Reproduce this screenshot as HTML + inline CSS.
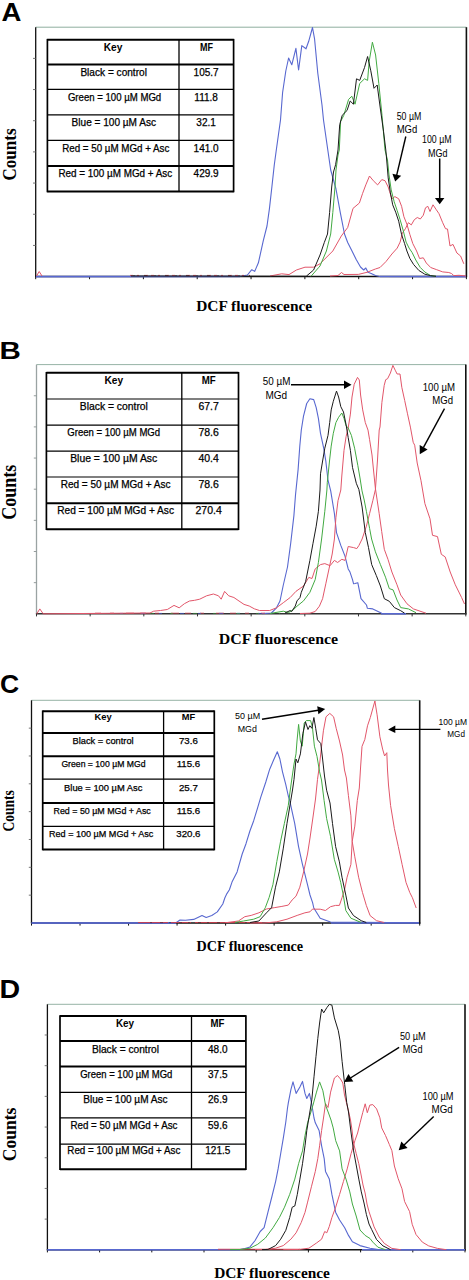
<!DOCTYPE html>
<html><head><meta charset="utf-8"><style>
html,body{margin:0;padding:0;background:#fff;}
svg{display:block;}
</style></head><body>
<svg width="469" height="1280" viewBox="0 0 469 1280">
<rect width="469" height="1280" fill="#fff"/>
<text transform="translate(1.6,20.6) scale(1.04,1)" x="0" y="0" font-family='"Liberation Sans", sans-serif' font-size="26.5" font-weight="bold">A</text>
<line x1="35.7" y1="27.2" x2="466.4" y2="27.2" stroke="#8fae9f" stroke-width="1.0"/>
<line x1="35.7" y1="27.2" x2="35.7" y2="276.6" stroke="#111" stroke-width="1.3"/>
<line x1="466.4" y1="27.2" x2="466.4" y2="277.20000000000005" stroke="#111" stroke-width="1.6"/>
<line x1="35.1" y1="276.6" x2="467.0" y2="276.6" stroke="#111" stroke-width="1.5"/>
<line x1="33.0" y1="245.425" x2="35.7" y2="245.425" stroke="#666" stroke-width="0.9"/>
<line x1="33.0" y1="214.25" x2="35.7" y2="214.25" stroke="#666" stroke-width="0.9"/>
<line x1="33.0" y1="183.07500000000002" x2="35.7" y2="183.07500000000002" stroke="#666" stroke-width="0.9"/>
<line x1="33.0" y1="151.9" x2="35.7" y2="151.9" stroke="#666" stroke-width="0.9"/>
<line x1="33.0" y1="120.725" x2="35.7" y2="120.725" stroke="#666" stroke-width="0.9"/>
<line x1="33.0" y1="89.55000000000001" x2="35.7" y2="89.55000000000001" stroke="#666" stroke-width="0.9"/>
<line x1="33.0" y1="58.375" x2="35.7" y2="58.375" stroke="#666" stroke-width="0.9"/>
<line x1="35.7" y1="276.6" x2="35.7" y2="279.20000000000005" stroke="#111" stroke-width="1.0"/>
<line x1="89.5375" y1="276.6" x2="89.5375" y2="279.20000000000005" stroke="#111" stroke-width="1.0"/>
<line x1="143.375" y1="276.6" x2="143.375" y2="279.20000000000005" stroke="#111" stroke-width="1.0"/>
<line x1="197.21249999999998" y1="276.6" x2="197.21249999999998" y2="279.20000000000005" stroke="#111" stroke-width="1.0"/>
<line x1="251.05" y1="276.6" x2="251.05" y2="279.20000000000005" stroke="#111" stroke-width="1.0"/>
<line x1="304.8875" y1="276.6" x2="304.8875" y2="279.20000000000005" stroke="#111" stroke-width="1.0"/>
<line x1="358.72499999999997" y1="276.6" x2="358.72499999999997" y2="279.20000000000005" stroke="#111" stroke-width="1.0"/>
<line x1="412.5625" y1="276.6" x2="412.5625" y2="279.20000000000005" stroke="#111" stroke-width="1.0"/>
<line x1="466.4" y1="276.6" x2="466.4" y2="279.20000000000005" stroke="#111" stroke-width="1.0"/>
<line x1="47.4" y1="38.900000000000006" x2="47.4" y2="192.3" stroke="#000" stroke-width="1.7"/>
<line x1="233.6" y1="38.900000000000006" x2="233.6" y2="192.3" stroke="#000" stroke-width="1.7"/>
<line x1="179" y1="39.7" x2="179" y2="191.5" stroke="#000" stroke-width="1.3"/>
<line x1="47.4" y1="39.7" x2="233.6" y2="39.7" stroke="#000" stroke-width="2.0"/>
<line x1="47.4" y1="64.6" x2="233.6" y2="64.6" stroke="#000" stroke-width="2.0"/>
<line x1="47.4" y1="89.3" x2="233.6" y2="89.3" stroke="#000" stroke-width="1.2"/>
<line x1="47.4" y1="114.8" x2="233.6" y2="114.8" stroke="#000" stroke-width="1.2"/>
<line x1="47.4" y1="140.3" x2="233.6" y2="140.3" stroke="#000" stroke-width="1.2"/>
<line x1="47.4" y1="166.1" x2="233.6" y2="166.1" stroke="#000" stroke-width="2.0"/>
<line x1="47.4" y1="191.5" x2="233.6" y2="191.5" stroke="#000" stroke-width="2.0"/>
<text x="103.7" y="51.0" font-family='"Liberation Sans", sans-serif' font-size="10" font-weight="bold" text-anchor="start" fill="#000" textLength="18.7" lengthAdjust="spacingAndGlyphs" >Key</text>
<text x="206.6" y="51.0" font-family='"Liberation Sans", sans-serif' font-size="10" font-weight="bold" text-anchor="middle" fill="#000" textLength="13.0" lengthAdjust="spacingAndGlyphs" >MF</text>
<text x="80.4" y="75.8" font-family='"Liberation Sans", sans-serif' font-size="10" font-weight="normal" text-anchor="start" fill="#000" textLength="66.5" lengthAdjust="spacingAndGlyphs" stroke="#000" stroke-width="0.25">Black = control</text>
<text x="206.1" y="75.8" font-family='"Liberation Sans", sans-serif' font-size="10" font-weight="normal" text-anchor="middle" fill="#000" stroke="#000" stroke-width="0.25">105.7</text>
<text x="67.9" y="100.5" font-family='"Liberation Sans", sans-serif' font-size="10" font-weight="normal" text-anchor="start" fill="#000" textLength="93.3" lengthAdjust="spacingAndGlyphs" stroke="#000" stroke-width="0.25">Green = 100 µM MGd</text>
<text x="206.1" y="100.5" font-family='"Liberation Sans", sans-serif' font-size="10" font-weight="normal" text-anchor="middle" fill="#000" stroke="#000" stroke-width="0.25">111.8</text>
<text x="71.6" y="126.0" font-family='"Liberation Sans", sans-serif' font-size="10" font-weight="normal" text-anchor="start" fill="#000" textLength="84.4" lengthAdjust="spacingAndGlyphs" stroke="#000" stroke-width="0.25">Blue = 100 µM Asc</text>
<text x="206.1" y="126.0" font-family='"Liberation Sans", sans-serif' font-size="10" font-weight="normal" text-anchor="middle" fill="#000" stroke="#000" stroke-width="0.25">32.1</text>
<text x="62.2" y="151.7" font-family='"Liberation Sans", sans-serif' font-size="10" font-weight="normal" text-anchor="start" fill="#000" textLength="107.2" lengthAdjust="spacingAndGlyphs" stroke="#000" stroke-width="0.25">Red = 50 µM MGd + Asc</text>
<text x="206.1" y="151.7" font-family='"Liberation Sans", sans-serif' font-size="10" font-weight="normal" text-anchor="middle" fill="#000" stroke="#000" stroke-width="0.25">141.0</text>
<text x="58.5" y="177.0" font-family='"Liberation Sans", sans-serif' font-size="10" font-weight="normal" text-anchor="start" fill="#000" textLength="113.7" lengthAdjust="spacingAndGlyphs" stroke="#000" stroke-width="0.25">Red = 100 µM MGd + Asc</text>
<text x="206.1" y="177.0" font-family='"Liberation Sans", sans-serif' font-size="10" font-weight="normal" text-anchor="middle" fill="#000" stroke="#000" stroke-width="0.25">429.9</text>
<text transform="translate(15.6,154.5) rotate(-90)" x="0" y="0" font-family='"Liberation Serif", serif' font-size="19" font-weight="bold" text-anchor="middle" textLength="52" lengthAdjust="spacingAndGlyphs">Counts</text>
<text x="254.14999999999998" y="310.6" font-family='"Liberation Serif", serif' font-size="15.2" font-weight="bold" text-anchor="middle" fill="#000" textLength="116.0" lengthAdjust="spacingAndGlyphs" >DCF fluorescence</text>
<polyline points="36.0,276.6 240.0,276.5 247.4,275.0 251.8,269.7 254.7,271.4 258.4,262.8 263.3,240.7 267.0,226.0 269.4,208.9 271.9,186.8 274.3,164.7 276.3,150.0 280.5,120.0 282.6,92.5 285.8,71.0 288.6,58.0 291.8,64.8 295.9,48.4 298.6,70.0 301.8,45.6 306.0,48.8 308.7,41.3 312.5,27.5 314.6,39.2 317.8,73.3 322.0,105.0 323.5,120.0 327.8,150.0 330.7,170.0 336.0,189.0 340.3,212.6 344.5,234.0 347.7,242.5 352.0,251.0 356.2,259.5 360.5,267.0 363.7,270.0 365.8,268.0 368.0,272.3 371.2,273.4 375.4,275.5 379.7,276.5 466.0,276.6" fill="none" stroke="#5868d0" stroke-width="1.1" stroke-opacity="1.0" stroke-linejoin="round"/>
<line x1="36" y1="276.6" x2="240" y2="276.6" stroke="#5868d0" stroke-width="1.5"/>
<line x1="380" y1="276.6" x2="466" y2="276.6" stroke="#5868d0" stroke-width="1.5"/>
<line x1="130" y1="275.4" x2="250" y2="275.4" stroke="#c03040" stroke-width="1" stroke-dasharray="3 4 2 5 4 3" stroke-opacity="0.8"/>
<line x1="133" y1="275.6" x2="250" y2="275.6" stroke="#222" stroke-width="0.8" stroke-dasharray="2 9 3 7" stroke-opacity="0.6"/>
<polyline points="270.0,276.0 281.7,273.8 289.0,274.6 296.4,270.0 305.0,267.2 313.6,267.2 320.0,263.8 332.8,251.0 341.3,236.0 347.7,227.5 353.0,208.4 359.4,203.0 362.6,193.4 365.8,184.9 369.5,176.0 373.3,180.7 377.6,184.9 381.8,179.6 385.0,180.7 388.2,187.0 389.5,191.3 391.9,198.8 394.9,196.6 398.7,198.8 401.6,206.3 403.9,216.7 406.9,224.2 409.9,234.6 412.8,243.6 416.6,251.0 419.6,258.5 423.3,257.8 426.3,263.0 430.7,267.5 436.7,269.7 442.7,271.9 448.8,272.5 451.5,273.5 453.8,275.6 459.0,275.3 466.0,276.0" fill="none" stroke="#e2566a" stroke-width="1.0" stroke-opacity="1.0" stroke-linejoin="round"/>
<polyline points="330.0,276.0 338.0,275.5 341.5,272.5 344.0,274.5 358.4,274.4 367.0,272.3 375.4,269.0 380.0,267.5 386.0,261.5 391.9,254.0 397.2,248.1 400.1,242.1 402.4,233.1 405.4,228.7 408.4,222.7 411.3,224.9 414.3,219.7 417.3,217.5 420.3,219.0 423.3,215.2 425.5,207.8 427.8,206.3 430.0,211.5 433.0,204.8 436.0,209.3 439.0,213.7 442.7,222.7 445.5,228.7 447.5,229.0 450.0,246.0 453.0,244.4 456.9,253.0 460.6,256.0 463.8,263.8" fill="none" stroke="#e2566a" stroke-width="1.0" stroke-opacity="1.0" stroke-linejoin="round"/>
<polyline points="36.5,276.0 39.2,271.5 42.0,276.0" fill="none" stroke="#e2566a" stroke-width="1.0" stroke-opacity="1.0" stroke-linejoin="round"/>
<polyline points="311.0,276.3 318.5,267.7 320.0,266.0 326.4,251.0 330.7,234.0 332.8,212.6 335.0,187.0 336.0,170.0 338.0,155.0 339.3,150.0 340.6,121.6 343.8,115.3 348.6,99.4 351.8,96.2 355.0,104.2 359.7,83.5 364.5,78.8 367.6,80.4 369.2,61.3 372.4,42.2 375.6,55.0 378.8,83.5 382.0,115.3 385.0,150.0 387.5,160.0 389.0,174.9 391.2,189.9 394.2,201.8 397.2,210.7 400.1,219.7 403.1,230.1 406.1,242.1 409.1,248.1 412.1,252.5 415.8,260.0 420.3,267.5 424.8,272.0 430.7,275.7 436.0,276.3" fill="none" stroke="#42aa42" stroke-width="1.0" stroke-opacity="1.0" stroke-linejoin="round"/>
<polyline points="131.0,276.0 306.2,276.3 313.6,270.0 320.0,255.0 324.3,242.5 327.5,234.0 329.6,212.6 331.7,187.0 333.5,172.0 335.6,164.7 338.0,150.0 339.7,124.8 342.2,115.3 347.0,110.5 350.2,101.0 353.4,104.2 356.5,78.8 359.7,80.4 364.5,67.6 367.6,56.5 370.8,70.8 374.0,88.3 377.2,85.0 380.4,109.0 383.5,131.2 385.8,150.0 386.7,160.0 388.2,177.9 390.4,192.8 392.7,204.8 395.7,212.2 398.7,221.2 401.6,234.6 404.6,243.6 406.9,251.0 409.9,258.5 413.6,264.5 418.8,270.4 424.8,274.2 430.7,275.7 436.0,276.3" fill="none" stroke="#1a1a1a" stroke-width="1.0" stroke-opacity="1.0" stroke-linejoin="round"/>
<text x="396.7" y="119.9" font-family='"Liberation Sans", sans-serif' font-size="10" font-weight="normal" text-anchor="start" fill="#000" textLength="24.6" lengthAdjust="spacingAndGlyphs" >50 µM</text>
<text x="396.7" y="132.6" font-family='"Liberation Sans", sans-serif' font-size="10" font-weight="normal" text-anchor="start" fill="#000" textLength="20.6" lengthAdjust="spacingAndGlyphs" >MGd</text>
<line x1="405.8" y1="136.5" x2="396.6903229288175" y2="175.17315737766137" stroke="#000" stroke-width="1.4"/>
<polygon points="395.2,181.5 392.4,173.7 401.2,175.7" fill="#000"/>
<text x="422.1" y="143.0" font-family='"Liberation Sans", sans-serif' font-size="10" font-weight="normal" text-anchor="start" fill="#000" textLength="29.4" lengthAdjust="spacingAndGlyphs" >100 µM</text>
<text x="428.0" y="156.5" font-family='"Liberation Sans", sans-serif' font-size="10" font-weight="normal" text-anchor="start" fill="#000" textLength="19.5" lengthAdjust="spacingAndGlyphs" >MGd</text>
<line x1="439.7" y1="158.5" x2="439.7" y2="198.5" stroke="#000" stroke-width="1.5"/>
<polygon points="439.7,204.2 434.9,198.0 444.4,198.0" fill="#000"/>
<text transform="translate(-0.6,358.5) scale(1.2,1)" x="0" y="0" font-family='"Liberation Sans", sans-serif' font-size="24.6" font-weight="bold">B</text>
<line x1="36.5" y1="364.6" x2="465.8" y2="364.6" stroke="#97b3a6" stroke-width="1.0"/>
<line x1="36.5" y1="364.6" x2="36.5" y2="613.8" stroke="#9aa3a3" stroke-width="1.3"/>
<line x1="465.8" y1="364.6" x2="465.8" y2="614.4" stroke="#111" stroke-width="1.6"/>
<line x1="35.9" y1="613.8" x2="466.40000000000003" y2="613.8" stroke="#333" stroke-width="1.5"/>
<line x1="33.8" y1="582.65" x2="36.5" y2="582.65" stroke="#8a9292" stroke-width="0.9"/>
<line x1="33.8" y1="551.5" x2="36.5" y2="551.5" stroke="#8a9292" stroke-width="0.9"/>
<line x1="33.8" y1="520.35" x2="36.5" y2="520.35" stroke="#8a9292" stroke-width="0.9"/>
<line x1="33.8" y1="489.2" x2="36.5" y2="489.2" stroke="#8a9292" stroke-width="0.9"/>
<line x1="33.8" y1="458.05" x2="36.5" y2="458.05" stroke="#8a9292" stroke-width="0.9"/>
<line x1="33.8" y1="426.9" x2="36.5" y2="426.9" stroke="#8a9292" stroke-width="0.9"/>
<line x1="33.8" y1="395.75" x2="36.5" y2="395.75" stroke="#8a9292" stroke-width="0.9"/>
<line x1="36.5" y1="613.8" x2="36.5" y2="616.4" stroke="#333" stroke-width="1.0"/>
<line x1="90.1625" y1="613.8" x2="90.1625" y2="616.4" stroke="#333" stroke-width="1.0"/>
<line x1="143.825" y1="613.8" x2="143.825" y2="616.4" stroke="#333" stroke-width="1.0"/>
<line x1="197.4875" y1="613.8" x2="197.4875" y2="616.4" stroke="#333" stroke-width="1.0"/>
<line x1="251.15" y1="613.8" x2="251.15" y2="616.4" stroke="#333" stroke-width="1.0"/>
<line x1="304.8125" y1="613.8" x2="304.8125" y2="616.4" stroke="#333" stroke-width="1.0"/>
<line x1="358.475" y1="613.8" x2="358.475" y2="616.4" stroke="#333" stroke-width="1.0"/>
<line x1="412.1375" y1="613.8" x2="412.1375" y2="616.4" stroke="#333" stroke-width="1.0"/>
<line x1="465.8" y1="613.8" x2="465.8" y2="616.4" stroke="#333" stroke-width="1.0"/>
<line x1="46.4" y1="372.0" x2="46.4" y2="530.0" stroke="#000" stroke-width="1.7"/>
<line x1="238.5" y1="372.0" x2="238.5" y2="530.0" stroke="#000" stroke-width="1.7"/>
<line x1="181.8" y1="372.8" x2="181.8" y2="529.2" stroke="#000" stroke-width="1.3"/>
<line x1="46.4" y1="372.8" x2="238.5" y2="372.8" stroke="#000" stroke-width="2.0"/>
<line x1="46.4" y1="399.0" x2="238.5" y2="399.0" stroke="#000" stroke-width="1.2"/>
<line x1="46.4" y1="425.2" x2="238.5" y2="425.2" stroke="#000" stroke-width="1.2"/>
<line x1="46.4" y1="451.2" x2="238.5" y2="451.2" stroke="#000" stroke-width="1.2"/>
<line x1="46.4" y1="477.0" x2="238.5" y2="477.0" stroke="#000" stroke-width="1.2"/>
<line x1="46.4" y1="503.3" x2="238.5" y2="503.3" stroke="#000" stroke-width="2.0"/>
<line x1="46.4" y1="529.2" x2="238.5" y2="529.2" stroke="#000" stroke-width="2.0"/>
<text x="104.5" y="384.4" font-family='"Liberation Sans", sans-serif' font-size="10.2" font-weight="bold" text-anchor="start" fill="#000" textLength="18.7" lengthAdjust="spacingAndGlyphs" >Key</text>
<text x="208.8" y="384.4" font-family='"Liberation Sans", sans-serif' font-size="10.2" font-weight="bold" text-anchor="middle" fill="#000" textLength="14.0" lengthAdjust="spacingAndGlyphs" >MF</text>
<text x="79.8" y="410.2" font-family='"Liberation Sans", sans-serif' font-size="10.2" font-weight="normal" text-anchor="start" fill="#000" textLength="68.1" lengthAdjust="spacingAndGlyphs" stroke="#000" stroke-width="0.25">Black = control</text>
<text x="208.6" y="410.2" font-family='"Liberation Sans", sans-serif' font-size="10.5" font-weight="normal" text-anchor="middle" fill="#000" stroke="#000" stroke-width="0.25">67.7</text>
<text x="67.3" y="436.3" font-family='"Liberation Sans", sans-serif' font-size="10.2" font-weight="normal" text-anchor="start" fill="#000" textLength="92.8" lengthAdjust="spacingAndGlyphs" stroke="#000" stroke-width="0.25">Green = 100 µM MGd</text>
<text x="208.6" y="436.3" font-family='"Liberation Sans", sans-serif' font-size="10.5" font-weight="normal" text-anchor="middle" fill="#000" stroke="#000" stroke-width="0.25">78.6</text>
<text x="70.2" y="461.5" font-family='"Liberation Sans", sans-serif' font-size="10.2" font-weight="normal" text-anchor="start" fill="#000" textLength="87.0" lengthAdjust="spacingAndGlyphs" stroke="#000" stroke-width="0.25">Blue = 100 µM Asc</text>
<text x="208.6" y="461.5" font-family='"Liberation Sans", sans-serif' font-size="10.5" font-weight="normal" text-anchor="middle" fill="#000" stroke="#000" stroke-width="0.25">40.4</text>
<text x="60.7" y="488.2" font-family='"Liberation Sans", sans-serif' font-size="10.2" font-weight="normal" text-anchor="start" fill="#000" textLength="109.8" lengthAdjust="spacingAndGlyphs" stroke="#000" stroke-width="0.25">Red = 50 µM MGd + Asc</text>
<text x="208.6" y="488.2" font-family='"Liberation Sans", sans-serif' font-size="10.5" font-weight="normal" text-anchor="middle" fill="#000" stroke="#000" stroke-width="0.25">78.6</text>
<text x="57.2" y="514.3" font-family='"Liberation Sans", sans-serif' font-size="10.2" font-weight="normal" text-anchor="start" fill="#000" textLength="116.8" lengthAdjust="spacingAndGlyphs" stroke="#000" stroke-width="0.25">Red = 100 µM MGd + Asc</text>
<text x="208.6" y="514.3" font-family='"Liberation Sans", sans-serif' font-size="10.5" font-weight="normal" text-anchor="middle" fill="#000" stroke="#000" stroke-width="0.25">270.4</text>
<text transform="translate(16.0,492.2) rotate(-90)" x="0" y="0" font-family='"Liberation Serif", serif' font-size="20" font-weight="bold" text-anchor="middle" textLength="55" lengthAdjust="spacingAndGlyphs">Counts</text>
<text x="278.4" y="644.2" font-family='"Liberation Serif", serif' font-size="15.6" font-weight="bold" text-anchor="middle" fill="#000" textLength="119.3" lengthAdjust="spacingAndGlyphs" >DCF fluorescence</text>
<polyline points="262.0,613.6 271.4,613.0 276.5,607.8 280.0,601.0 283.2,585.5 287.5,567.0 290.7,543.3 293.9,515.6 295.5,495.0 298.1,469.6 299.8,446.0 301.3,430.0 303.5,416.2 306.7,403.5 309.9,398.8 313.7,399.6 316.2,407.7 318.4,418.4 320.5,433.3 323.7,448.2 325.8,461.0 328.0,480.2 330.7,490.9 332.2,500.0 334.4,513.5 336.5,532.6 340.8,545.4 345.0,556.1 348.2,568.9 350.0,572.1 352.5,579.7 353.6,583.8 355.0,583.5 357.8,582.7 361.0,598.7 366.5,605.0 367.4,608.3 372.8,608.9 381.7,613.2 406.0,613.6" fill="none" stroke="#5868d0" stroke-width="1.1" stroke-opacity="1.0" stroke-linejoin="round"/>
<line x1="381" y1="613.8" x2="406" y2="613.8" stroke="#5868d0" stroke-width="1.5"/>
<line x1="95" y1="613.2" x2="265" y2="613.2" stroke="#c84050" stroke-width="1" stroke-dasharray="6 9 4 12 8 6" stroke-opacity="0.8"/>
<line x1="120" y1="613.4" x2="265" y2="613.4" stroke="#4455cc" stroke-width="1" stroke-dasharray="3 18 4 14" stroke-opacity="0.7"/>
<line x1="150" y1="613.4" x2="280" y2="613.4" stroke="#3a9a3a" stroke-width="1" stroke-dasharray="4 16 3 20" stroke-opacity="0.6"/>
<polyline points="300.0,613.5 309.9,613.2 315.2,611.5 319.4,606.2 322.6,598.7 325.8,583.8 329.0,568.9 332.2,554.0 334.4,539.0 335.9,517.7 338.0,500.7 340.8,490.0 341.8,476.0 344.0,450.4 346.1,436.5 348.2,428.0 350.4,414.1 352.0,397.0 354.2,384.3 357.5,377.4 359.3,380.0 360.6,395.0 362.7,409.9 365.3,422.6 368.0,430.1 369.6,439.7 372.0,455.0 373.5,470.0 375.4,488.4 379.2,513.7 381.7,531.5 384.3,549.3 388.0,559.4 391.9,572.0 397.0,584.8 400.7,595.0 407.0,603.8 413.4,608.9 426.0,613.2" fill="none" stroke="#e2566a" stroke-width="1.0" stroke-opacity="1.0" stroke-linejoin="round"/>
<polyline points="36.8,613.8 39.8,608.9 43.2,613.8 150.0,613.0 153.6,611.2 160.5,610.5 167.3,609.5 174.0,605.4 179.2,607.8 184.4,603.7 189.5,601.0 194.6,600.3 199.7,599.2 206.6,595.8 213.4,594.0 218.5,595.8 221.2,599.2 224.6,591.4 228.7,595.8 233.9,597.5 239.0,601.0 244.0,604.4 249.2,606.0 254.3,608.8 259.5,610.5 269.7,610.5 276.5,607.8 283.3,602.7 290.2,597.5 296.0,591.3 303.5,586.0 308.8,577.4 312.0,578.5 315.2,568.9 320.5,564.6 324.8,563.6 330.1,565.7 334.4,560.4 337.6,562.5 341.8,559.3 345.0,560.4 348.2,546.5 353.6,547.6 356.8,548.6 358.9,545.5 362.1,539.0 366.4,526.2 369.6,513.5 372.8,500.7 375.4,489.6 377.5,460.0 379.2,430.0 380.0,427.0 381.9,402.4 384.2,385.4 385.7,379.7 387.6,378.7 390.4,373.0 392.9,365.4 395.2,370.2 397.1,374.0 400.0,374.0 401.8,387.3 404.7,400.5 407.5,413.8 410.4,427.1 413.2,442.3 414.7,445.2 417.2,463.0 421.0,480.7 424.9,503.6 430.0,518.8 432.5,535.3 437.5,536.6 441.3,554.3 445.2,556.9 450.2,572.0 455.3,584.8 461.6,597.5 464.5,604.0" fill="none" stroke="#e2566a" stroke-width="1.0" stroke-opacity="1.0" stroke-linejoin="round"/>
<polyline points="270.0,613.5 283.3,611.2 288.5,612.6 293.6,609.5 297.0,606.2 303.5,600.9 309.9,592.3 315.2,579.6 318.4,562.5 321.6,539.0 324.8,511.3 326.9,490.0 327.3,482.3 329.5,461.0 331.2,446.1 333.3,433.3 335.9,422.6 338.6,417.3 341.8,413.0 344.0,418.4 346.1,425.8 348.2,428.0 351.4,435.4 354.6,448.2 357.8,465.3 360.0,478.0 362.0,490.9 364.2,500.0 366.4,511.3 369.6,528.4 371.6,539.0 375.4,551.8 380.4,564.5 385.5,577.2 389.3,588.6 393.1,589.9 397.0,600.0 400.7,607.6 408.4,608.9 416.0,612.7" fill="none" stroke="#42aa42" stroke-width="1.0" stroke-opacity="1.0" stroke-linejoin="round"/>
<polyline points="285.0,613.0 290.2,610.5 291.7,611.5 295.3,606.0 297.0,600.9 300.0,597.5 301.3,592.3 305.6,581.7 309.9,560.4 313.0,543.3 316.2,526.2 318.4,511.3 320.0,490.0 320.5,473.8 322.6,461.0 324.8,448.2 328.0,435.4 329.7,422.6 331.2,409.9 333.3,401.3 336.5,391.1 338.6,397.0 340.8,406.7 343.5,412.0 346.1,424.8 348.2,437.6 350.4,450.4 352.5,467.4 356.3,483.3 358.9,489.6 362.1,507.0 365.3,532.6 368.5,547.6 371.7,564.6 376.3,575.5 380.4,586.0 384.3,598.7 389.3,601.3 394.4,607.6 400.7,610.7 404.6,613.2" fill="none" stroke="#1a1a1a" stroke-width="1.0" stroke-opacity="1.0" stroke-linejoin="round"/>
<text x="262.8" y="385.0" font-family='"Liberation Sans", sans-serif' font-size="10" font-weight="normal" text-anchor="start" fill="#000" textLength="27.6" lengthAdjust="spacingAndGlyphs" >50 µM</text>
<text x="265.4" y="398.6" font-family='"Liberation Sans", sans-serif' font-size="10" font-weight="normal" text-anchor="start" fill="#000" textLength="21.7" lengthAdjust="spacingAndGlyphs" >MGd</text>
<line x1="291" y1="384.8" x2="344.5" y2="384.8" stroke="#000" stroke-width="1.4"/>
<polygon points="351.5,384.8 344.0,389.1 344.0,380.6" fill="#000"/>
<text x="422.7" y="391.0" font-family='"Liberation Sans", sans-serif' font-size="10" font-weight="normal" text-anchor="start" fill="#000" textLength="32.3" lengthAdjust="spacingAndGlyphs" >100 µM</text>
<text x="432.2" y="404.0" font-family='"Liberation Sans", sans-serif' font-size="10" font-weight="normal" text-anchor="start" fill="#000" textLength="20.8" lengthAdjust="spacingAndGlyphs" >MGd</text>
<line x1="444.5" y1="408.7" x2="423.3721236140556" y2="447.7053102509742" stroke="#000" stroke-width="1.4"/>
<polygon points="419.8,454.3 419.7,445.1 427.6,449.4" fill="#000"/>
<text transform="translate(0.0,692.6) scale(1.04,1)" x="0" y="0" font-family='"Liberation Sans", sans-serif' font-size="25.5" font-weight="bold">C</text>
<line x1="31.5" y1="700.3" x2="419.7" y2="700.3" stroke="#97b3a6" stroke-width="1.0"/>
<line x1="31.5" y1="700.3" x2="31.5" y2="923.0" stroke="#111" stroke-width="1.3"/>
<line x1="419.7" y1="700.3" x2="419.7" y2="923.6" stroke="#111" stroke-width="1.6"/>
<line x1="30.9" y1="923.0" x2="420.3" y2="923.0" stroke="#111" stroke-width="1.5"/>
<line x1="28.8" y1="895.1625" x2="31.5" y2="895.1625" stroke="#666" stroke-width="0.9"/>
<line x1="28.8" y1="867.325" x2="31.5" y2="867.325" stroke="#666" stroke-width="0.9"/>
<line x1="28.8" y1="839.4875" x2="31.5" y2="839.4875" stroke="#666" stroke-width="0.9"/>
<line x1="28.8" y1="811.65" x2="31.5" y2="811.65" stroke="#666" stroke-width="0.9"/>
<line x1="28.8" y1="783.8125" x2="31.5" y2="783.8125" stroke="#666" stroke-width="0.9"/>
<line x1="28.8" y1="755.9749999999999" x2="31.5" y2="755.9749999999999" stroke="#666" stroke-width="0.9"/>
<line x1="28.8" y1="728.1374999999999" x2="31.5" y2="728.1374999999999" stroke="#666" stroke-width="0.9"/>
<line x1="31.5" y1="923.0" x2="31.5" y2="925.6" stroke="#111" stroke-width="1.0"/>
<line x1="80.025" y1="923.0" x2="80.025" y2="925.6" stroke="#111" stroke-width="1.0"/>
<line x1="128.55" y1="923.0" x2="128.55" y2="925.6" stroke="#111" stroke-width="1.0"/>
<line x1="177.075" y1="923.0" x2="177.075" y2="925.6" stroke="#111" stroke-width="1.0"/>
<line x1="225.6" y1="923.0" x2="225.6" y2="925.6" stroke="#111" stroke-width="1.0"/>
<line x1="274.125" y1="923.0" x2="274.125" y2="925.6" stroke="#111" stroke-width="1.0"/>
<line x1="322.65" y1="923.0" x2="322.65" y2="925.6" stroke="#111" stroke-width="1.0"/>
<line x1="371.175" y1="923.0" x2="371.175" y2="925.6" stroke="#111" stroke-width="1.0"/>
<line x1="419.7" y1="923.0" x2="419.7" y2="925.6" stroke="#111" stroke-width="1.0"/>
<line x1="42.7" y1="710.4000000000001" x2="42.7" y2="850.3" stroke="#000" stroke-width="1.7"/>
<line x1="214.3" y1="710.4000000000001" x2="214.3" y2="850.3" stroke="#000" stroke-width="1.7"/>
<line x1="163.6" y1="711.2" x2="163.6" y2="849.5" stroke="#000" stroke-width="1.3"/>
<line x1="42.7" y1="711.2" x2="214.3" y2="711.2" stroke="#000" stroke-width="2.0"/>
<line x1="42.7" y1="733.0" x2="214.3" y2="733.0" stroke="#000" stroke-width="2.0"/>
<line x1="42.7" y1="756.2" x2="214.3" y2="756.2" stroke="#000" stroke-width="2.0"/>
<line x1="42.7" y1="779.2" x2="214.3" y2="779.2" stroke="#000" stroke-width="1.2"/>
<line x1="42.7" y1="803.0" x2="214.3" y2="803.0" stroke="#000" stroke-width="2.0"/>
<line x1="42.7" y1="826.4" x2="214.3" y2="826.4" stroke="#000" stroke-width="1.2"/>
<line x1="42.7" y1="849.5" x2="214.3" y2="849.5" stroke="#000" stroke-width="2.0"/>
<text x="94.5" y="720.4" font-family='"Liberation Sans", sans-serif' font-size="9.2" font-weight="bold" text-anchor="start" fill="#000" textLength="17.2" lengthAdjust="spacingAndGlyphs" >Key</text>
<text x="188.5" y="720.4" font-family='"Liberation Sans", sans-serif' font-size="9.2" font-weight="bold" text-anchor="middle" fill="#000" textLength="13.4" lengthAdjust="spacingAndGlyphs" >MF</text>
<text x="72.5" y="743.7" font-family='"Liberation Sans", sans-serif' font-size="9.2" font-weight="normal" text-anchor="start" fill="#000" textLength="61.1" lengthAdjust="spacingAndGlyphs" stroke="#000" stroke-width="0.25">Black = control</text>
<text x="188.4" y="743.7" font-family='"Liberation Sans", sans-serif' font-size="9.7" font-weight="normal" text-anchor="middle" fill="#000" stroke="#000" stroke-width="0.25">73.6</text>
<text x="61.4" y="766.7" font-family='"Liberation Sans", sans-serif' font-size="9.2" font-weight="normal" text-anchor="start" fill="#000" textLength="84.1" lengthAdjust="spacingAndGlyphs" stroke="#000" stroke-width="0.25">Green = 100 µM MGd</text>
<text x="188.4" y="766.7" font-family='"Liberation Sans", sans-serif' font-size="9.7" font-weight="normal" text-anchor="middle" fill="#000" stroke="#000" stroke-width="0.25">115.6</text>
<text x="64.1" y="790.5" font-family='"Liberation Sans", sans-serif' font-size="9.2" font-weight="normal" text-anchor="start" fill="#000" textLength="78.3" lengthAdjust="spacingAndGlyphs" stroke="#000" stroke-width="0.25">Blue = 100 µM Asc</text>
<text x="188.4" y="790.5" font-family='"Liberation Sans", sans-serif' font-size="9.7" font-weight="normal" text-anchor="middle" fill="#000" stroke="#000" stroke-width="0.25">25.7</text>
<text x="53.5" y="813.5" font-family='"Liberation Sans", sans-serif' font-size="9.2" font-weight="normal" text-anchor="start" fill="#000" textLength="97.3" lengthAdjust="spacingAndGlyphs" stroke="#000" stroke-width="0.25">Red = 50 µM MGd + Asc</text>
<text x="188.4" y="813.5" font-family='"Liberation Sans", sans-serif' font-size="9.7" font-weight="normal" text-anchor="middle" fill="#000" stroke="#000" stroke-width="0.25">115.6</text>
<text x="49.0" y="836.8" font-family='"Liberation Sans", sans-serif' font-size="9.2" font-weight="normal" text-anchor="start" fill="#000" textLength="104.4" lengthAdjust="spacingAndGlyphs" stroke="#000" stroke-width="0.25">Red = 100 µM MGd + Asc</text>
<text x="188.4" y="836.8" font-family='"Liberation Sans", sans-serif' font-size="9.7" font-weight="normal" text-anchor="middle" fill="#000" stroke="#000" stroke-width="0.25">320.6</text>
<text transform="translate(13.8,810.9) rotate(-90)" x="0" y="0" font-family='"Liberation Serif", serif' font-size="16" font-weight="bold" text-anchor="middle" textLength="41.4" lengthAdjust="spacingAndGlyphs">Counts</text>
<text x="249.85" y="950.8" font-family='"Liberation Serif", serif' font-size="14" font-weight="bold" text-anchor="middle" fill="#000" textLength="106.6" lengthAdjust="spacingAndGlyphs" >DCF fluorescence</text>
<polyline points="31.5,923.0 176.0,922.8 180.0,920.0 185.4,920.2 193.7,919.4 202.0,915.5 206.2,917.5 211.8,915.5 217.3,911.9 222.8,904.0 224.8,898.0 226.9,893.6 229.4,889.8 232.0,882.1 237.1,871.9 242.2,854.0 246.0,843.7 249.9,831.0 253.7,820.7 257.6,807.9 260.7,797.4 265.8,782.0 269.7,769.2 273.5,760.3 277.3,751.8 279.9,759.0 282.5,771.8 285.8,784.6 288.3,796.0 289.6,800.2 294.7,823.3 298.5,846.3 302.4,864.2 307.5,884.7 310.0,895.0 312.6,902.6 313.8,908.0 320.2,918.2 330.5,922.0 419.0,922.8" fill="none" stroke="#5868d0" stroke-width="1.1" stroke-opacity="1.0" stroke-linejoin="round"/>
<line x1="31.5" y1="923" x2="176" y2="923" stroke="#5868d0" stroke-width="1.5"/>
<line x1="331" y1="923" x2="419" y2="923" stroke="#5868d0" stroke-width="1.5"/>
<line x1="138" y1="922.5" x2="262" y2="922.5" stroke="#d03848" stroke-width="1" stroke-dasharray="30 3 20 4 40 3" stroke-opacity="0.85"/>
<line x1="150" y1="922.6" x2="262" y2="922.6" stroke="#222" stroke-width="0.8" stroke-dasharray="2 8 3 6" stroke-opacity="0.6"/>
<polyline points="225.0,922.8 238.4,921.0 244.8,916.7 251.2,915.4 258.9,912.8 266.5,909.0 274.2,907.7 281.9,906.4 288.3,905.1 292.1,900.0 296.0,896.2 299.8,887.2 303.6,871.9 307.5,854.0 310.0,838.0 313.0,817.0 315.5,799.0 317.5,779.4 319.6,764.1 321.6,746.2 323.4,730.8 326.0,716.8 329.8,713.4 333.6,716.8 336.2,728.3 339.5,741.0 342.6,755.0 344.5,770.0 346.4,778.0 348.4,795.4 350.9,815.8 352.2,841.4 354.8,856.8 358.6,877.2 362.5,892.6 366.3,905.4 370.1,915.6 376.5,920.7 384.2,922.5" fill="none" stroke="#e2566a" stroke-width="1.0" stroke-opacity="1.0" stroke-linejoin="round"/>
<polyline points="250.0,923.0 264.0,923.0 276.8,921.8 287.0,919.2 297.2,915.4 304.9,912.8 310.0,911.8 312.6,909.0 315.1,909.2 320.2,909.2 325.4,910.5 330.5,906.7 335.6,905.4 339.4,905.4 342.0,897.7 344.5,890.0 347.1,877.2 350.9,864.4 352.2,841.4 354.8,826.1 357.3,800.5 359.3,788.0 360.6,767.0 362.0,746.4 364.8,739.5 367.5,725.8 370.3,717.5 374.9,701.0 377.1,714.8 379.9,736.8 382.6,749.1 384.6,756.0 386.8,752.7 387.5,770.0 388.5,785.0 390.6,805.6 394.4,828.6 398.3,846.5 402.1,864.4 406.0,882.4 409.8,892.6 412.4,897.7 416.2,908.0" fill="none" stroke="#e2566a" stroke-width="1.0" stroke-opacity="1.0" stroke-linejoin="round"/>
<polyline points="235.0,922.5 243.5,921.0 253.7,919.2 260.1,916.7 265.3,907.7 269.1,897.5 272.9,884.7 276.8,861.6 280.6,841.2 284.4,823.3 288.3,805.4 290.0,792.0 291.4,782.0 294.0,764.1 296.0,753.9 297.0,741.0 298.6,724.4 300.4,741.0 302.2,746.2 304.2,723.1 306.3,720.6 310.6,720.6 312.4,727.0 314.4,746.2 317.0,756.4 319.6,771.8 321.5,780.0 324.1,800.5 326.6,818.4 330.5,836.3 334.3,859.3 338.1,872.1 340.7,882.4 343.3,895.1 345.8,910.5 350.9,918.2 361.2,922.5" fill="none" stroke="#42aa42" stroke-width="1.0" stroke-opacity="1.0" stroke-linejoin="round"/>
<polyline points="250.0,922.5 258.9,921.0 266.5,912.8 271.6,907.7 275.5,887.2 279.3,871.9 283.2,848.9 287.0,823.3 290.8,800.2 292.5,790.0 294.0,779.4 296.0,759.0 297.8,762.8 300.4,753.9 302.9,733.4 305.5,721.9 308.0,729.5 309.8,725.7 311.9,728.3 313.9,717.5 315.7,728.3 317.5,739.8 320.8,743.6 322.6,759.0 324.5,776.0 326.6,790.2 330.0,803.0 332.5,823.5 335.6,846.5 339.4,861.9 342.0,877.2 345.8,895.1 348.4,908.0 353.5,915.6 361.2,920.7 366.3,922.5" fill="none" stroke="#1a1a1a" stroke-width="1.0" stroke-opacity="1.0" stroke-linejoin="round"/>
<text x="235.1" y="718.8" font-family='"Liberation Sans", sans-serif' font-size="9.2" font-weight="normal" text-anchor="start" fill="#000" textLength="25.1" lengthAdjust="spacingAndGlyphs" >50 µM</text>
<text x="237.7" y="731.7" font-family='"Liberation Sans", sans-serif' font-size="9.2" font-weight="normal" text-anchor="start" fill="#000" textLength="19.2" lengthAdjust="spacingAndGlyphs" >MGd</text>
<line x1="262" y1="719.3" x2="318.2894230863464" y2="710.2153146284694" stroke="#000" stroke-width="1.4"/>
<polygon points="325.2,709.1 318.4,714.2 317.2,706.3" fill="#000"/>
<text x="438.5" y="724.9" font-family='"Liberation Sans", sans-serif' font-size="9.2" font-weight="normal" text-anchor="start" fill="#000" textLength="28.5" lengthAdjust="spacingAndGlyphs" >100 µM</text>
<text x="447.3" y="737.4" font-family='"Liberation Sans", sans-serif' font-size="9.2" font-weight="normal" text-anchor="start" fill="#000" textLength="17.7" lengthAdjust="spacingAndGlyphs" >MGd</text>
<line x1="440.4" y1="729.4" x2="394.8" y2="729.4" stroke="#000" stroke-width="1.4"/>
<polygon points="388.1,729.4 395.3,725.6 395.3,733.1" fill="#000"/>
<text transform="translate(-0.6,998.3) scale(1.1,1)" x="0" y="0" font-family='"Liberation Sans", sans-serif' font-size="26" font-weight="bold">D</text>
<line x1="47.4" y1="1004.3" x2="465.0" y2="1004.3" stroke="#97b3a6" stroke-width="1.0"/>
<line x1="47.4" y1="1004.3" x2="47.4" y2="1249.8" stroke="#111" stroke-width="1.3"/>
<line x1="465.0" y1="1004.3" x2="465.0" y2="1250.3999999999999" stroke="#111" stroke-width="1.6"/>
<line x1="46.8" y1="1249.8" x2="465.6" y2="1249.8" stroke="#111" stroke-width="1.5"/>
<line x1="44.699999999999996" y1="1219.1125" x2="47.4" y2="1219.1125" stroke="#666" stroke-width="0.9"/>
<line x1="44.699999999999996" y1="1188.425" x2="47.4" y2="1188.425" stroke="#666" stroke-width="0.9"/>
<line x1="44.699999999999996" y1="1157.7375" x2="47.4" y2="1157.7375" stroke="#666" stroke-width="0.9"/>
<line x1="44.699999999999996" y1="1127.05" x2="47.4" y2="1127.05" stroke="#666" stroke-width="0.9"/>
<line x1="44.699999999999996" y1="1096.3625" x2="47.4" y2="1096.3625" stroke="#666" stroke-width="0.9"/>
<line x1="44.699999999999996" y1="1065.675" x2="47.4" y2="1065.675" stroke="#666" stroke-width="0.9"/>
<line x1="44.699999999999996" y1="1034.9875" x2="47.4" y2="1034.9875" stroke="#666" stroke-width="0.9"/>
<line x1="47.4" y1="1249.8" x2="47.4" y2="1252.3999999999999" stroke="#111" stroke-width="1.0"/>
<line x1="99.6" y1="1249.8" x2="99.6" y2="1252.3999999999999" stroke="#111" stroke-width="1.0"/>
<line x1="151.8" y1="1249.8" x2="151.8" y2="1252.3999999999999" stroke="#111" stroke-width="1.0"/>
<line x1="204.00000000000003" y1="1249.8" x2="204.00000000000003" y2="1252.3999999999999" stroke="#111" stroke-width="1.0"/>
<line x1="256.2" y1="1249.8" x2="256.2" y2="1252.3999999999999" stroke="#111" stroke-width="1.0"/>
<line x1="308.4" y1="1249.8" x2="308.4" y2="1252.3999999999999" stroke="#111" stroke-width="1.0"/>
<line x1="360.6" y1="1249.8" x2="360.6" y2="1252.3999999999999" stroke="#111" stroke-width="1.0"/>
<line x1="412.8" y1="1249.8" x2="412.8" y2="1252.3999999999999" stroke="#111" stroke-width="1.0"/>
<line x1="465.0" y1="1249.8" x2="465.0" y2="1252.3999999999999" stroke="#111" stroke-width="1.0"/>
<line x1="60.0" y1="1015.3000000000001" x2="60.0" y2="1170.0" stroke="#000" stroke-width="1.7"/>
<line x1="245.9" y1="1015.3000000000001" x2="245.9" y2="1170.0" stroke="#000" stroke-width="1.7"/>
<line x1="191.5" y1="1016.1" x2="191.5" y2="1169.2" stroke="#000" stroke-width="1.3"/>
<line x1="60.0" y1="1016.1" x2="245.9" y2="1016.1" stroke="#000" stroke-width="2.0"/>
<line x1="60.0" y1="1041.0" x2="245.9" y2="1041.0" stroke="#000" stroke-width="2.0"/>
<line x1="60.0" y1="1066.5" x2="245.9" y2="1066.5" stroke="#000" stroke-width="2.0"/>
<line x1="60.0" y1="1092.3" x2="245.9" y2="1092.3" stroke="#000" stroke-width="1.2"/>
<line x1="60.0" y1="1117.8" x2="245.9" y2="1117.8" stroke="#000" stroke-width="1.2"/>
<line x1="60.0" y1="1144.1" x2="245.9" y2="1144.1" stroke="#000" stroke-width="1.2"/>
<line x1="60.0" y1="1169.2" x2="245.9" y2="1169.2" stroke="#000" stroke-width="2.0"/>
<text x="115.9" y="1027.4" font-family='"Liberation Sans", sans-serif' font-size="10" font-weight="bold" text-anchor="start" fill="#000" textLength="18.2" lengthAdjust="spacingAndGlyphs" >Key</text>
<text x="217.5" y="1027.4" font-family='"Liberation Sans", sans-serif' font-size="10" font-weight="bold" text-anchor="middle" fill="#000" textLength="13.9" lengthAdjust="spacingAndGlyphs" >MF</text>
<text x="91.9" y="1053.1" font-family='"Liberation Sans", sans-serif' font-size="10" font-weight="normal" text-anchor="start" fill="#000" textLength="67.1" lengthAdjust="spacingAndGlyphs" stroke="#000" stroke-width="0.25">Black = control</text>
<text x="217.8" y="1053.1" font-family='"Liberation Sans", sans-serif' font-size="10" font-weight="normal" text-anchor="middle" fill="#000" stroke="#000" stroke-width="0.25">48.0</text>
<text x="80.2" y="1077.9" font-family='"Liberation Sans", sans-serif' font-size="10" font-weight="normal" text-anchor="start" fill="#000" textLength="92.2" lengthAdjust="spacingAndGlyphs" stroke="#000" stroke-width="0.25">Green = 100 µM MGd</text>
<text x="217.8" y="1077.9" font-family='"Liberation Sans", sans-serif' font-size="10" font-weight="normal" text-anchor="middle" fill="#000" stroke="#000" stroke-width="0.25">37.5</text>
<text x="83.3" y="1103.4" font-family='"Liberation Sans", sans-serif' font-size="10" font-weight="normal" text-anchor="start" fill="#000" textLength="84.2" lengthAdjust="spacingAndGlyphs" stroke="#000" stroke-width="0.25">Blue = 100 µM Asc</text>
<text x="217.8" y="1103.4" font-family='"Liberation Sans", sans-serif' font-size="10" font-weight="normal" text-anchor="middle" fill="#000" stroke="#000" stroke-width="0.25">26.9</text>
<text x="70.5" y="1129.1" font-family='"Liberation Sans", sans-serif' font-size="10" font-weight="normal" text-anchor="start" fill="#000" textLength="107.0" lengthAdjust="spacingAndGlyphs" stroke="#000" stroke-width="0.25">Red = 50 µM MGd + Asc</text>
<text x="217.8" y="1129.1" font-family='"Liberation Sans", sans-serif' font-size="10" font-weight="normal" text-anchor="middle" fill="#000" stroke="#000" stroke-width="0.25">59.6</text>
<text x="67.3" y="1154.2" font-family='"Liberation Sans", sans-serif' font-size="10" font-weight="normal" text-anchor="start" fill="#000" textLength="113.1" lengthAdjust="spacingAndGlyphs" stroke="#000" stroke-width="0.25">Red = 100 µM MGd + Asc</text>
<text x="217.8" y="1154.2" font-family='"Liberation Sans", sans-serif' font-size="10" font-weight="normal" text-anchor="middle" fill="#000" stroke="#000" stroke-width="0.25">121.5</text>
<text transform="translate(16.2,1134.4) rotate(-90)" x="0" y="0" font-family='"Liberation Serif", serif' font-size="19.5" font-weight="bold" text-anchor="middle" textLength="53.7" lengthAdjust="spacingAndGlyphs">Counts</text>
<text x="272.05" y="1277.9" font-family='"Liberation Serif", serif' font-size="15.2" font-weight="bold" text-anchor="middle" fill="#000" textLength="115.8" lengthAdjust="spacingAndGlyphs" >DCF fluorescence</text>
<polyline points="47.4,1249.8 240.0,1249.5 245.0,1248.5 250.0,1246.9 255.1,1240.5 260.2,1231.5 264.1,1227.7 267.9,1212.4 271.8,1197.0 275.6,1181.6 278.1,1168.9 280.7,1153.5 283.3,1138.1 285.8,1122.0 287.5,1108.0 288.4,1102.4 290.9,1089.6 293.0,1081.9 296.1,1093.4 299.9,1087.0 302.5,1081.4 305.0,1093.4 306.8,1098.5 309.4,1093.4 311.4,1102.4 312.7,1110.0 314.0,1118.0 315.3,1122.8 319.1,1130.5 321.6,1145.8 324.2,1158.6 325.5,1171.4 329.3,1179.1 331.9,1194.4 335.7,1212.4 339.6,1220.0 344.7,1227.7 348.5,1235.4 352.4,1241.8 360.0,1245.6 370.0,1248.2 380.0,1249.7 465.0,1249.8" fill="none" stroke="#5868d0" stroke-width="1.1" stroke-opacity="1.0" stroke-linejoin="round"/>
<line x1="47.4" y1="1249.8" x2="240" y2="1249.8" stroke="#5868d0" stroke-width="1.5"/>
<line x1="362" y1="1249.8" x2="465" y2="1249.8" stroke="#5868d0" stroke-width="1.5"/>
<line x1="218" y1="1249.3" x2="300" y2="1249.3" stroke="#d84050" stroke-width="1.1" stroke-opacity="0.9"/>
<polyline points="255.0,1249.6 265.4,1249.5 275.6,1248.2 283.3,1245.6 290.9,1239.2 296.1,1232.8 301.2,1222.6 305.0,1212.4 307.6,1202.1 311.4,1186.8 315.3,1171.4 317.8,1158.6 319.6,1145.8 321.6,1130.5 323.5,1118.0 325.5,1103.6 328.0,1107.5 330.6,1092.1 334.4,1078.0 337.5,1075.5 340.5,1079.0 342.8,1083.0 344.5,1095.0 346.5,1103.0 348.5,1111.0 350.5,1120.0 352.0,1130.0 353.6,1143.3 356.2,1153.5 358.8,1163.7 361.3,1176.0 363.0,1185.0 365.1,1193.0 367.0,1204.0 369.0,1211.6 374.1,1226.9 379.2,1237.0 384.3,1243.4 391.9,1248.4 400.7,1249.7" fill="none" stroke="#e2566a" stroke-width="1.0" stroke-opacity="1.0" stroke-linejoin="round"/>
<polyline points="283.3,1249.6 298.6,1249.5 308.9,1248.2 316.5,1243.0 321.6,1239.2 324.7,1231.5 326.8,1232.8 329.3,1226.4 331.9,1217.5 335.7,1207.2 339.6,1194.4 343.4,1181.6 347.2,1168.9 351.1,1153.5 354.9,1140.7 357.6,1133.0 360.1,1122.8 362.7,1112.7 365.2,1103.8 367.3,1112.7 369.8,1105.1 372.8,1104.6 376.6,1108.9 379.9,1117.8 381.7,1127.9 385.5,1135.5 389.3,1144.4 391.9,1150.7 394.4,1166.0 398.2,1178.7 402.0,1188.8 404.6,1201.5 409.6,1211.6 412.2,1224.3 416.0,1234.5 422.3,1242.1 428.7,1245.9 437.5,1248.4 446.4,1249.7" fill="none" stroke="#e2566a" stroke-width="1.0" stroke-opacity="1.0" stroke-linejoin="round"/>
<polyline points="230.0,1249.6 240.0,1249.5 250.0,1248.2 257.7,1244.3 265.4,1238.0 273.0,1227.7 279.4,1217.5 284.5,1207.2 289.7,1194.4 294.8,1179.1 298.6,1163.7 302.5,1150.9 305.0,1135.6 307.6,1122.8 310.0,1115.0 313.0,1105.0 316.5,1092.1 319.6,1081.9 322.9,1090.8 325.5,1105.0 328.5,1113.0 331.0,1120.0 333.2,1127.9 335.7,1140.7 339.6,1150.9 342.1,1168.9 346.0,1179.1 349.8,1191.9 352.4,1204.0 356.2,1216.0 360.0,1230.0 365.1,1235.4 370.0,1238.5 372.8,1242.1 377.9,1247.2 385.5,1249.7" fill="none" stroke="#42aa42" stroke-width="1.0" stroke-opacity="1.0" stroke-linejoin="round"/>
<polyline points="262.0,1249.6 267.9,1249.5 275.6,1245.6 280.7,1239.2 285.8,1230.3 289.7,1217.5 292.2,1207.2 294.8,1206.0 297.3,1194.4 299.9,1179.1 302.5,1163.7 305.0,1145.8 306.8,1130.5 308.9,1117.7 310.5,1108.0 311.8,1099.8 314.0,1076.8 316.0,1056.3 317.8,1038.4 319.6,1023.0 321.6,1009.0 323.7,1012.8 326.8,1007.7 329.3,1004.4 331.9,1005.1 334.4,1017.9 338.3,1030.7 340.1,1040.9 342.1,1061.4 344.7,1084.4 346.7,1102.4 348.5,1112.0 351.1,1133.0 353.6,1150.9 356.2,1165.0 358.8,1179.1 361.3,1191.9 364.0,1203.0 366.4,1214.5 369.0,1224.0 371.6,1229.4 376.6,1239.6 383.0,1245.9 390.6,1249.7" fill="none" stroke="#1a1a1a" stroke-width="1.0" stroke-opacity="1.0" stroke-linejoin="round"/>
<text x="400.0" y="1040.0" font-family='"Liberation Sans", sans-serif' font-size="10" font-weight="normal" text-anchor="start" fill="#000" textLength="25.8" lengthAdjust="spacingAndGlyphs" >50 µM</text>
<text x="402.7" y="1053.4" font-family='"Liberation Sans", sans-serif' font-size="10" font-weight="normal" text-anchor="start" fill="#000" textLength="19.8" lengthAdjust="spacingAndGlyphs" >MGd</text>
<line x1="399.1" y1="1047.3" x2="350.44308438584494" y2="1077.998090396567" stroke="#000" stroke-width="1.4"/>
<polygon points="344.1,1082.0 348.5,1073.9 353.3,1081.5" fill="#000"/>
<text x="422.5" y="1099.7" font-family='"Liberation Sans", sans-serif' font-size="10" font-weight="normal" text-anchor="start" fill="#000" textLength="31.1" lengthAdjust="spacingAndGlyphs" >100 µM</text>
<text x="431.6" y="1113.4" font-family='"Liberation Sans", sans-serif' font-size="10" font-weight="normal" text-anchor="start" fill="#000" textLength="21.2" lengthAdjust="spacingAndGlyphs" >MGd</text>
<line x1="433.7" y1="1116.5" x2="404.1026872460535" y2="1144.9979839945142" stroke="#000" stroke-width="1.4"/>
<polygon points="398.7,1150.2 401.3,1141.4 407.6,1147.9" fill="#000"/>
</svg>
</body></html>
